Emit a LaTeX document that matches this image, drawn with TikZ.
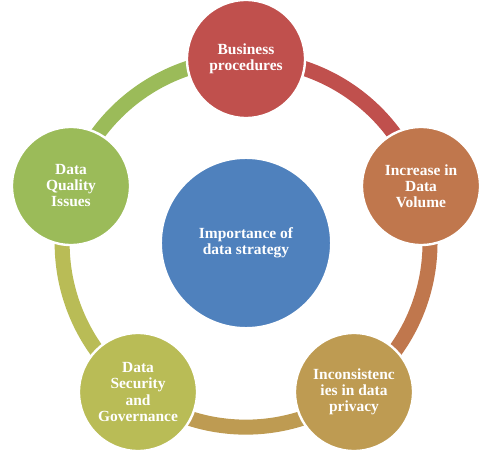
\documentclass[tikz,border=0pt]{standalone}
\usepackage{fontspec}
\setmainfont{Liberation Serif}

\definecolor{hubblue}{RGB}{79,129,189}
\definecolor{procred}{RGB}{192,80,77}
\definecolor{volbrown}{RGB}{192,119,77}
\definecolor{privgold}{RGB}{190,155,82}
\definecolor{govolive}{RGB}{185,188,86}
\definecolor{qualgreen}{RGB}{155,187,89}

\begin{document}
\begin{tikzpicture}[
        x=0.025cm, y=0.025cm,
        hub/.style={circle, fill=hubblue, draw=white, line width=0.05cm, minimum size=4.25cm, inner sep=0pt,
          text=white, align=center, font=\fontsize{11}{11.6}\selectfont\bfseries},
        issue/.style={circle, draw=white, line width=0.06cm, minimum size=2.95cm, inner sep=0pt,
          text=white, align=center, font=\fontsize{11}{11.4}\selectfont\bfseries},
        ring/.style={line width=0.375cm}
      ]
        \useasboundingbox (0, 0) rectangle (500, 455);

        \coordinate (c) at (246, 212);
        \coordinate (t) at (246, 396);
        \coordinate (r) at (421, 269);
        \coordinate (br) at (354, 63);
        \coordinate (bl) at (138, 63);
        \coordinate (l) at (71, 269);

        % ring between the outer circles
        \draw [ring, procred] (t) arc [start angle=90, end angle=18, radius=184];
        \draw [ring, volbrown] (r) arc [start angle=18, end angle=-54, radius=184];
        \draw [ring, privgold] (br) arc [start angle=-54, end angle=-126, radius=184];
        \draw [ring, govolive] (bl) arc [start angle=-126, end angle=-198, radius=184];
        \draw [ring, qualgreen] (l) arc [start angle=162, end angle=90, radius=184];

        \node (hub) at (c) [hub] {Importance of\\data strategy};
        \node (proc) at (t) [issue, fill=procred] {Business\\procedures};
        \node (vol) at (r) [issue, fill=volbrown] {Increase in\\Data\\Volume};
        \node (priv) at (br) [issue, fill=privgold] {Inconsistenc\\ies in data\\privacy};
        \node (gov) at (bl) [issue, fill=govolive] {Data\\Security\\and\\Governance};
        \node (qual) at (l) [issue, fill=qualgreen] {Data\\Quality\\Issues};
      \end{tikzpicture}
\end{document}
